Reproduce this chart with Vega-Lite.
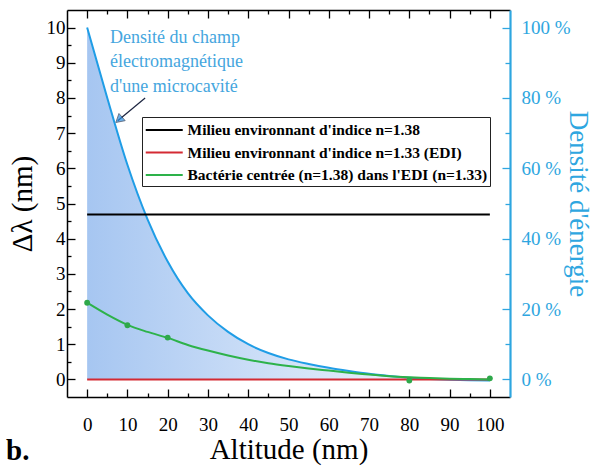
{
  "$schema": "https://vega.github.io/schema/vega-lite/v6.json",
  "width": 443,
  "height": 387,
  "autosize": "none",
  "padding": {"left": 67, "top": 10, "right": 82, "bottom": 69},
  "background": "white",
  "config": {
    "view": {"stroke": null},
    "axis": {
      "grid": false,
      "labelFont": "Liberation Serif, DejaVu Serif, serif",
      "labelFontSize": 19,
      "labelColor": "#000000",
      "titleFont": "Liberation Serif, DejaVu Serif, serif",
      "titleFontWeight": "normal",
      "titleColor": "#000000",
      "domainColor": "#000000",
      "domainWidth": 1.5,
      "tickColor": "#000000",
      "tickWidth": 1.3
    }
  },
  "datasets": {
    "energy": [
      {"altitude": 0, "density": 100}, {"altitude": 5, "density": 80}, {"altitude": 10, "density": 61},
      {"altitude": 15, "density": 45.5}, {"altitude": 20, "density": 33.5}, {"altitude": 25, "density": 24.5},
      {"altitude": 30, "density": 18.2}, {"altitude": 35, "density": 13.5}, {"altitude": 40, "density": 10.0},
      {"altitude": 45, "density": 7.5}, {"altitude": 50, "density": 5.7}, {"altitude": 55, "density": 4.4},
      {"altitude": 60, "density": 3.3}, {"altitude": 65, "density": 2.4}, {"altitude": 70, "density": 1.6},
      {"altitude": 75, "density": 1.0}, {"altitude": 80, "density": 0.5}, {"altitude": 85, "density": 0.15},
      {"altitude": 90, "density": -0.1}, {"altitude": 95, "density": -0.25}, {"altitude": 100, "density": -0.3}
    ],
    "series": [
      {"series": "Milieu environnant d'indice n=1.38", "altitude": 0, "delta": 4.69},
      {"series": "Milieu environnant d'indice n=1.38", "altitude": 100, "delta": 4.69},
      {"series": "Milieu environnant d'indice n=1.33 (EDI)", "altitude": 0, "delta": 0},
      {"series": "Milieu environnant d'indice n=1.33 (EDI)", "altitude": 100, "delta": 0},
      {"series": "Bactérie centrée (n=1.38) dans l'EDI (n=1.33)", "altitude": 0, "delta": 2.18},
      {"series": "Bactérie centrée (n=1.38) dans l'EDI (n=1.33)", "altitude": 5, "delta": 1.84},
      {"series": "Bactérie centrée (n=1.38) dans l'EDI (n=1.33)", "altitude": 10, "delta": 1.55},
      {"series": "Bactérie centrée (n=1.38) dans l'EDI (n=1.33)", "altitude": 15, "delta": 1.35},
      {"series": "Bactérie centrée (n=1.38) dans l'EDI (n=1.33)", "altitude": 20, "delta": 1.18},
      {"series": "Bactérie centrée (n=1.38) dans l'EDI (n=1.33)", "altitude": 25, "delta": 0.98},
      {"series": "Bactérie centrée (n=1.38) dans l'EDI (n=1.33)", "altitude": 30, "delta": 0.82},
      {"series": "Bactérie centrée (n=1.38) dans l'EDI (n=1.33)", "altitude": 35, "delta": 0.68},
      {"series": "Bactérie centrée (n=1.38) dans l'EDI (n=1.33)", "altitude": 40, "delta": 0.56},
      {"series": "Bactérie centrée (n=1.38) dans l'EDI (n=1.33)", "altitude": 45, "delta": 0.46},
      {"series": "Bactérie centrée (n=1.38) dans l'EDI (n=1.33)", "altitude": 50, "delta": 0.38},
      {"series": "Bactérie centrée (n=1.38) dans l'EDI (n=1.33)", "altitude": 55, "delta": 0.31},
      {"series": "Bactérie centrée (n=1.38) dans l'EDI (n=1.33)", "altitude": 60, "delta": 0.25},
      {"series": "Bactérie centrée (n=1.38) dans l'EDI (n=1.33)", "altitude": 65, "delta": 0.19},
      {"series": "Bactérie centrée (n=1.38) dans l'EDI (n=1.33)", "altitude": 70, "delta": 0.14},
      {"series": "Bactérie centrée (n=1.38) dans l'EDI (n=1.33)", "altitude": 75, "delta": 0.09},
      {"series": "Bactérie centrée (n=1.38) dans l'EDI (n=1.33)", "altitude": 80, "delta": 0.06},
      {"series": "Bactérie centrée (n=1.38) dans l'EDI (n=1.33)", "altitude": 85, "delta": 0.04},
      {"series": "Bactérie centrée (n=1.38) dans l'EDI (n=1.33)", "altitude": 90, "delta": 0.02},
      {"series": "Bactérie centrée (n=1.38) dans l'EDI (n=1.33)", "altitude": 95, "delta": 0.01},
      {"series": "Bactérie centrée (n=1.38) dans l'EDI (n=1.33)", "altitude": 100, "delta": 0.0}
    ],
    "measures": [
      {"altitude": 0, "delta": 2.18}, {"altitude": 10, "delta": 1.54}, {"altitude": 20, "delta": 1.19},
      {"altitude": 80, "delta": -0.03}, {"altitude": 100, "delta": 0.03}
    ],
    "notes": [
      {"altitude": 5.7, "delta": 9.57, "label": "Densité du champ\nélectromagnétique\nd'une microcavité"}
    ],
    "arrow": [
      {"altitude": 14.4, "delta": 8.0, "altitude2": 7.6, "delta2": 7.35}
    ],
    "arrowhead": [
      {"altitude": 7.9, "delta": 7.38}
    ]
  },
  "title": {
    "text": "b.",
    "orient": "bottom",
    "anchor": "start",
    "frame": "bounds",
    "font": "Liberation Serif, DejaVu Serif, serif",
    "fontSize": 29,
    "fontWeight": "bold",
    "color": "#000000",
    "baseline": "alphabetic",
    "offset": 0,
    "dx": -2,
    "dy": -4
  },
  "layer": [
    {
      "data": {"name": "energy"},
      "encoding": {
        "x": {
          "field": "altitude", "type": "quantitative",
          "scale": {"domain": [-5, 105], "nice": false, "zero": false},
          "axis": {
            "orient": "top", "title": null, "labels": false,
            "values": [0,5,10,15,20,25,30,35,40,45,50,55,60,65,70,75,80,85,90,95,100],
            "tickSize": {"condition": {"test": "datum.value % 10 === 0", "value": -8}, "value": -4}
          }
        },
        "y": {
          "field": "density", "type": "quantitative",
          "scale": {"domain": [-5, 105], "nice": false, "zero": false},
          "axis": {
            "orient": "right",
            "title": "Densité d'énergie",
            "titleFontSize": 27,
            "titleColor": "#2ea6e0",
            "titleAngle": 90,
            "titleBaseline": "alphabetic",
            "titleX": 59,
            "values": [0,10,20,30,40,50,60,70,80,90,100],
            "labelExpr": "datum.value % 20 === 0 ? datum.value + ' %' : ''",
            "labelColor": "#2ea6e0",
            "labelPadding": 19,
            "domainColor": "#2ea6e0",
            "domainWidth": 2.2,
            "tickColor": "#2ea6e0",
            "tickSize": {"condition": {"test": "datum.value % 20 === 0", "value": -8}, "value": -5}
          }
        }
      },
      "layer": [
        {
          "mark": {
            "type": "area",
            "interpolate": "monotone",
            "color": {
              "gradient": "linear", "x1": 0, "x2": 1, "y1": 0, "y2": 0,
              "stops": [
                {"offset": 0, "color": "#a6c6f1"},
                {"offset": 0.5, "color": "#d2e2f8"},
                {"offset": 1, "color": "#f5f8fd"}
              ]
            }
          },
          "encoding": {"y2": {"datum": 0}}
        },
        {
          "mark": {"type": "line", "interpolate": "monotone", "color": "#1f9de6", "strokeWidth": 2}
        }
      ]
    },
    {
      "encoding": {
        "x": {
          "field": "altitude", "type": "quantitative",
          "scale": {"domain": [-5, 105], "nice": false, "zero": false},
          "axis": {
            "orient": "bottom",
            "title": "Altitude (nm)",
            "titleFontSize": 29,
            "titleBaseline": "alphabetic",
            "titleY": 61,
            "values": [0,5,10,15,20,25,30,35,40,45,50,55,60,65,70,75,80,85,90,95,100],
            "labelExpr": "datum.value % 10 === 0 ? datum.label : ''",
            "labelPadding": 26,
            "tickSize": {"condition": {"test": "datum.value % 10 === 0", "value": -8}, "value": -4}
          }
        },
        "y": {
          "field": "delta", "type": "quantitative",
          "scale": {"domain": [-0.5, 10.5], "nice": false, "zero": false},
          "axis": {
            "orient": "left",
            "title": "Δλ (nm)",
            "titleFontSize": 29,
            "titleBaseline": "alphabetic",
            "titleX": -36,
            "values": [0,0.5,1,1.5,2,2.5,3,3.5,4,4.5,5,5.5,6,6.5,7,7.5,8,8.5,9,9.5,10],
            "labelExpr": "datum.value % 1 === 0 ? format(datum.value, 'd') : ''",
            "labelPadding": 10,
            "tickSize": {"condition": {"test": "datum.value % 1 === 0", "value": -8}, "value": -4}
          }
        }
      },
      "layer": [
        {
          "data": {"name": "series"},
          "mark": {"type": "line", "interpolate": "monotone", "strokeWidth": 2},
          "encoding": {
            "color": {
              "field": "series", "type": "nominal",
              "scale": {
                "domain": ["Milieu environnant d'indice n=1.38", "Milieu environnant d'indice n=1.33 (EDI)", "Bactérie centrée (n=1.38) dans l'EDI (n=1.33)"],
                "range": ["#000000", "#d42a33", "#2db24a"]
              },
              "legend": {
                "title": null,
                "orient": "none",
                "legendX": 75,
                "legendY": 107,
                "symbolType": "M-1,0H3",
                "symbolSize": 342,
                "symbolStrokeWidth": 2,
                "labelFont": "Liberation Serif, DejaVu Serif, serif",
                "labelFontSize": 15.5,
                "labelFontWeight": "bold",
                "labelColor": "#000000",
                "labelLimit": 400,
                "labelOffset": 22,
                "rowPadding": 3.5,
                "padding": 2.5,
                "strokeColor": "#222222",
                "fillColor": "white"
              }
            }
          }
        },
        {
          "data": {"name": "measures"},
          "mark": {"type": "circle", "size": 34, "color": "#2ea84a", "opacity": 1}
        },
        {
          "data": {"name": "notes"},
          "mark": {
            "type": "text", "align": "left", "baseline": "alphabetic",
            "lineBreak": "\n", "lineHeight": 24.5,
            "font": "Liberation Serif, DejaVu Serif, serif", "fontSize": 18, "color": "#45a6de"
          },
          "encoding": {"text": {"field": "label"}}
        },
        {
          "data": {"name": "arrow"},
          "mark": {"type": "rule", "color": "#1c2540", "strokeWidth": 1.2},
          "encoding": {
            "x2": {"field": "altitude2"},
            "y2": {"field": "delta2"}
          }
        },
        {
          "data": {"name": "arrowhead"},
          "mark": {"type": "point", "shape": "triangle-up", "size": 90, "angle": 229, "filled": true, "color": "#2a8fe3", "stroke": "#1c2540", "strokeWidth": 0.8}
        }
      ]
    }
  ],
  "resolve": {
    "scale": {"y": "independent"},
    "axis": {"x": "independent", "y": "independent"}
  }
}
